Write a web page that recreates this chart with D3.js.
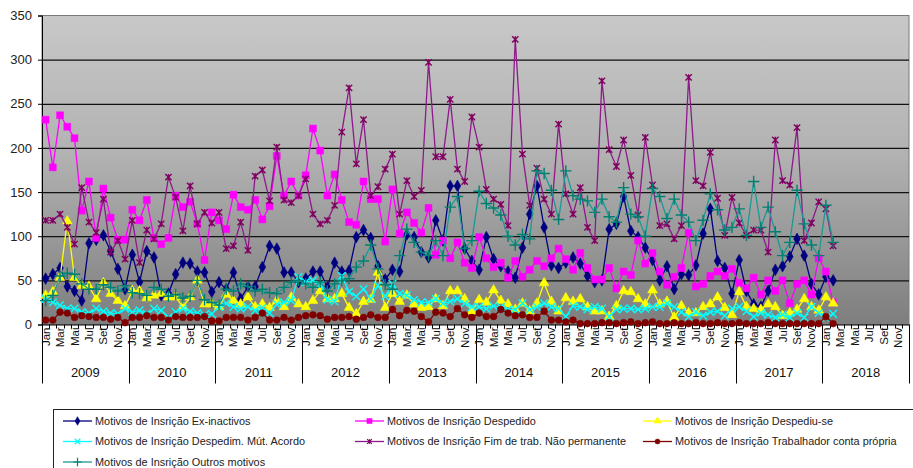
<!DOCTYPE html>
<html>
<head>
<meta charset="utf-8">
<script src="https://cdn.jsdelivr.net/npm/d3@7"></script>
<style>
  body { margin: 0; background: #fff; }
  svg { display: block; font-family: "Liberation Sans", Arial, sans-serif; }
</style>
</head>
<body>
<svg id="chart" width="913" height="468"></svg>
<script>
// Monthly registrations by reason, Jan 2009 - Feb 2018
const years = [2009, 2010, 2011, 2012, 2013, 2014, 2015, 2016, 2017, 2018];
const monthNames = ["Jan", "Fev", "Mar", "Abr", "Mai", "Jun", "Jul", "Ago", "Set", "Out", "Nov", "Dez"];
const yTicks = [0, 50, 100, 150, 200, 250, 300, 350];

const exInactivos = [
  52, 57, 64, 43, 38, 27, 92, 96, 101, 83, 63, 40,
  79, 48, 83, 76, 33, 35, 57, 70, 69, 60, 59, 37,
  48, 40, 59, 29, 43, 43, 65, 89, 86, 59, 59, 48,
  52, 60, 60, 42, 70, 60, 61, 99, 107, 98, 66, 51,
  62, 60, 102, 99, 82, 76, 118, 95, 157, 157, 86, 72,
  62, 99, 74, 66, 60, 53, 87, 125, 157, 110, 67, 64,
  70, 76, 69, 55, 48, 50, 108, 114, 145, 106, 99, 87,
  73, 50, 66, 40, 57, 56, 67, 103, 131, 72, 64, 35,
  73, 38, 23, 20, 38, 62, 66, 77, 97, 78, 46, 34,
  54, 50
];
const despedido = [
  232, 178, 237, 224, 211, 129, 162, 98, 154, 121, 96, 96,
  130, 118, 141, 98, 91, 98, 146, 133, 139, 114, 73, 127,
  118, 108, 147, 133, 130, 141, 119, 134, 191, 146, 162, 146,
  169, 222, 197, 146, 170, 141, 116, 113, 162, 142, 142, 94,
  153, 103, 127, 115, 104, 132, 79, 95, 75, 93, 70, 64,
  99, 75, 65, 70, 53, 72, 54, 62, 72, 66, 75, 86,
  74, 62, 81, 64, 51, 51, 64, 41, 60, 56, 95, 69,
  81, 60, 45, 54, 64, 104, 43, 46, 55, 60, 55, 63,
  47, 41, 53, 34, 50, 38, 50, 24, 46, 50, 34, 75,
  60, 25
];
const despediuSe = [
  33, 37, 53, 117, 53, 44, 43, 29, 47, 35, 27, 21,
  38, 38, 30, 33, 35, 31, 31, 20, 31, 50, 23, 23,
  20, 34, 27, 23, 31, 20, 23, 19, 27, 20, 31, 23,
  20, 27, 38, 29, 29, 35, 19, 12, 26, 28, 59, 19,
  35, 26, 33, 23, 19, 20, 29, 21, 38, 38, 29, 15,
  28, 25, 39, 27, 23, 17, 24, 15, 24, 47, 26, 15,
  30, 26, 29, 20, 15, 15, 9, 21, 38, 37, 29, 23,
  39, 23, 26, 8, 21, 13, 13, 20, 23, 31, 19, 11,
  37, 20, 18, 17, 23, 20, 10, 13, 17, 29, 20, 16,
  31, 24
];
const mutuoAcordo = [
  29, 25, 22, 18, 18, 14, 13, 18, 15, 13, 12, 18,
  14, 16, 12, 18, 16, 8, 14, 18, 15, 13, 11, 12,
  20, 24, 20, 18, 20, 16, 19, 13, 23, 25, 27, 54,
  48, 50, 45, 28, 26, 55, 37, 32, 40, 29, 44, 32,
  46, 35, 33, 28, 25, 25, 29, 24, 26, 29, 24, 20,
  20, 18, 21, 20, 17, 17, 24, 17, 20, 24, 20, 18,
  9, 21, 20, 17, 20, 18, 9, 17, 18, 18, 17, 18,
  20, 20, 24, 20, 14, 9, 14, 10, 14, 15, 10, 18,
  20, 15, 9, 13, 11, 8, 11, 8, 13, 8, 20, 13,
  8, 12
];
const fimTrabalho = [
  118, 118, 125, 110, 91, 155, 116, 104, 142, 82, 95, 74,
  118, 70, 107, 97, 114, 167, 144, 106, 157, 114, 127, 115,
  127, 86, 89, 116, 84, 168, 175, 140, 201, 141, 138, 146,
  165, 125, 114, 118, 135, 218, 268, 182, 232, 146, 156, 176,
  193, 125, 163, 145, 152, 297, 190, 190, 255, 176, 162, 235,
  201, 153, 142, 136, 112, 323, 193, 135, 177, 142, 125, 227,
  148, 125, 155, 110, 95, 276, 198, 179, 209, 169, 124, 212,
  158, 112, 114, 97, 112, 280, 163, 157, 195, 143, 101, 144,
  115, 101, 107, 107, 82, 209, 163, 158, 223, 95, 115, 139,
  131, 89
];
const contaPropria = [
  5, 5, 14, 13, 8, 10, 9, 8, 8, 6, 8, 2,
  8, 8, 10, 8, 8, 5, 9, 8, 8, 8, 9, 4,
  4, 8, 8, 8, 5, 8, 13, 5, 5, 8, 5, 8,
  10, 11, 10, 6, 8, 8, 9, 6, 8, 11, 8, 8,
  17, 10, 16, 15, 9, 3, 14, 13, 9, 18, 11, 8,
  13, 9, 9, 17, 13, 10, 11, 8, 8, 15, 5, 5,
  3, 5, 1, 1, 1, 2, 2, 1, 2, 3, 1, 2,
  3, 1, 1, 2, 1, 1, 2, 1, 1, 2, 1, 1,
  2, 1, 1, 1, 2, 1, 1, 1, 1, 1, 1, 1,
  9, 1
];
const outrosMotivos = [
  27, 33, 55, 58, 57, 46, 40, 40, 45, 42, 38, 44,
  36, 35, 33, 42, 40, 32, 34, 30, 32, 50, 28, 25,
  22, 40, 38, 46, 43, 38, 40, 36, 35, 42, 48, 50,
  46, 42, 48, 38, 46, 50, 52, 65, 72, 90, 63, 45,
  40, 78, 108, 93, 82, 78, 95, 78, 133, 145, 86, 95,
  151, 137, 132, 124, 100, 90, 102, 97, 174, 171, 152, 119,
  174, 146, 142, 140, 127, 142, 122, 116, 155, 125, 122, 100,
  154, 145, 120, 142, 124, 116, 95, 118, 148, 130, 107, 110,
  131, 101, 162, 110, 133, 105, 78, 93, 152, 114, 90, 78,
  135, 93
];

const legendPrefix = "Motivos de Insrição ";

// Excel-style star: an X with a vertical stroke through it
const symbolStar = {
  draw(ctx, size) {
    const r = Math.sqrt(size) / 2;
    ctx.moveTo(-r, -r); ctx.lineTo(r, r);
    ctx.moveTo(-r, r); ctx.lineTo(r, -r);
    ctx.moveTo(0, -r); ctx.lineTo(0, r);
  }
};

const series = [
  { name: "Ex-inactivos", values: exInactivos, line: "#000080", mark: "#000080", symbol: d3.symbolDiamond, size: 40, stroke: false },
  { name: "Despedido", values: despedido, line: "#ff00ff", mark: "#ff00ff", symbol: d3.symbolSquare, size: 48, stroke: false },
  { name: "Despediu-se", values: despediuSe, line: "#ffff00", mark: "#ffff00", symbol: d3.symbolTriangle, size: 42, stroke: false },
  { name: "Despedim. Mút. Acordo", values: mutuoAcordo, line: "#00ffff", mark: "#00ffff", symbol: d3.symbolX, size: 40, stroke: true },
  { name: "Fim de trab. Não permanente", values: fimTrabalho, line: "#8e1a8a", mark: "#800060", symbol: symbolStar, size: 40, stroke: true },
  { name: "Trabalhador conta própria", values: contaPropria, line: "#800000", mark: "#800000", symbol: d3.symbolCircle, size: 36, stroke: false },
  { name: "Outros motivos", values: outrosMotivos, line: "#1a9a94", mark: "#008070", symbol: d3.symbolPlus, size: 44, stroke: true }
];

const svg = d3.select("#chart");
const plot = { left: 42, right: 909, top: 15.5, bottom: 324.5 };

const categories = years.flatMap(yr => monthNames.map(m => `${m} ${yr}`));
const x = d3.scaleBand().domain(categories).range([plot.left, plot.right]);
const y = d3.scaleLinear().domain([0, 350]).range([plot.bottom, plot.top]);
const cx = i => x(categories[i]) + x.bandwidth() / 2;

// Plot area background
const defs = svg.append("defs");
const grad = defs.append("linearGradient").attr("id", "bg").attr("x1", 0).attr("y1", 0).attr("x2", 0).attr("y2", 1);
grad.append("stop").attr("offset", "0%").attr("stop-color", "#c8c8c8");
grad.append("stop").attr("offset", "45%").attr("stop-color", "#b2b2b2");
grad.append("stop").attr("offset", "100%").attr("stop-color", "#7e7e7e");

svg.append("rect")
  .attr("x", plot.left).attr("y", plot.top)
  .attr("width", plot.right - plot.left).attr("height", plot.bottom - plot.top)
  .attr("fill", "url(#bg)").attr("stroke", "#7a7a7a").attr("stroke-width", 1);

// Horizontal gridlines
svg.append("g")
  .attr("transform", `translate(${plot.left},0)`)
  .call(d3.axisLeft(y).tickValues(yTicks.filter(v => v > 0 && v < 350))
    .tickSize(-(plot.right - plot.left)).tickFormat(""))
  .call(g => g.select(".domain").remove())
  .call(g => g.selectAll("line").attr("stroke", "#111").attr("stroke-width", 1.2));

// Value axis
svg.append("g")
  .attr("transform", `translate(${plot.left},0)`)
  .call(d3.axisLeft(y).tickValues(yTicks).tickSize(4).tickPadding(6))
  .call(g => g.select(".domain").attr("stroke", "#000"))
  .call(g => g.selectAll("line").attr("stroke", "#000"))
  .call(g => g.selectAll("text").attr("font-size", 13).attr("fill", "#222")
    .attr("font-family", "'Liberation Sans', Arial, sans-serif"));

// Category axis
const xAxis = svg.append("g").attr("transform", `translate(0,${plot.bottom})`);
xAxis.call(d3.axisBottom(x).tickSize(0).tickFormat(""))
  .call(g => g.select(".domain").attr("stroke", "#000"));

// short ticks at month boundaries, long ones at year boundaries
const bounds = categories.map(c => x(c)).concat([plot.right]);
xAxis.selectAll("line.mtick").data(bounds).join("line")
  .attr("class", "mtick")
  .attr("x1", d => Math.round(d) + 0.5).attr("x2", d => Math.round(d) + 0.5)
  .attr("y1", 0).attr("y2", (d, i) => (i % 12 === 0) ? 59 : 4)
  .attr("stroke", "#000").attr("stroke-width", 1);

xAxis.selectAll("text.month").data(categories.filter((c, i) => i % 2 === 0)).join("text")
  .attr("class", "month")
  .attr("transform", c => `translate(${x(c) + x.bandwidth() / 2 + 4},3) rotate(-90)`)
  .attr("text-anchor", "end")
  .attr("font-size", 11.5)
  .attr("fill", "#111")
  .text(c => c.split(" ")[0]);

xAxis.selectAll("text.year").data(years).join("text")
  .attr("class", "year")
  .attr("x", yr => (x(`Jan ${yr}`) + x(`Dez ${yr}`) + x.bandwidth()) / 2)
  .attr("y", 52)
  .attr("text-anchor", "middle")
  .attr("font-size", 13)
  .attr("fill", "#111")
  .text(yr => yr);

// Series
const line = d3.line().x((d, i) => cx(i)).y(d => y(d));
series.forEach(s => {
  const g = svg.append("g");
  g.append("path").attr("d", line(s.values))
    .attr("fill", "none").attr("stroke", s.line).attr("stroke-width", 1.3);
  const sym = d3.symbol().type(s.symbol).size(s.size);
  g.selectAll("path.m").data(s.values).join("path")
    .attr("class", "m")
    .attr("transform", (d, i) => `translate(${cx(i)},${y(d)})`)
    .attr("d", sym)
    .attr("fill", s.stroke ? "none" : s.mark)
    .attr("stroke", s.mark)
    .attr("stroke-width", s.stroke ? 1.4 : 0.5);
});

// Legend
const legend = svg.append("g");
legend.append("rect").attr("x", 53.5).attr("y", 409.5).attr("width", 880).attr("height", 80)
  .attr("fill", "#fff").attr("stroke", "#222").attr("stroke-width", 1);
const colX = [63, 355, 643];
const rowY = [421, 441.5, 462];
series.forEach((s, i) => {
  const lx = colX[i % 3], ly = rowY[Math.floor(i / 3)];
  const item = legend.append("g").attr("transform", `translate(${lx},${ly})`);
  item.append("line").attr("x1", 0).attr("x2", 29).attr("y1", 0).attr("y2", 0)
    .attr("stroke", s.line).attr("stroke-width", 1.3);
  item.append("path").attr("transform", "translate(14.5,0)")
    .attr("d", d3.symbol().type(s.symbol).size(s.size * 0.55))
    .attr("fill", s.stroke ? "none" : s.mark).attr("stroke", s.mark)
    .attr("stroke-width", s.stroke ? 1.2 : 0.5);
  item.append("text").attr("x", 32).attr("y", 0).attr("dy", "0.35em")
    .attr("font-size", 10.9).attr("fill", "#222")
    .text(legendPrefix + s.name);
});
</script>
</body>
</html>
